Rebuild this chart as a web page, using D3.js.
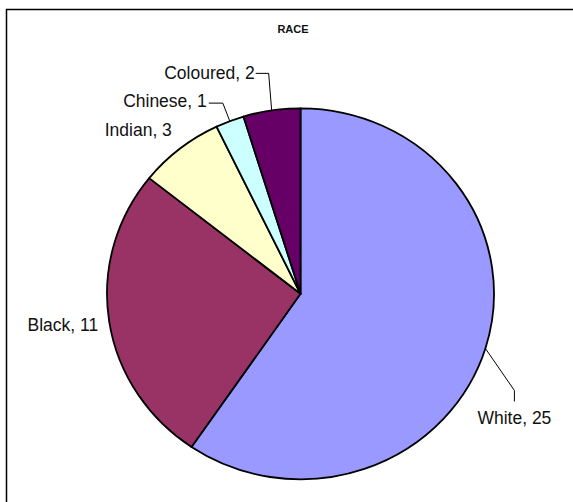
<!DOCTYPE html>
<html>
<head>
<meta charset="utf-8">
<script src="https://cdn.jsdelivr.net/npm/d3@7"></script>
<style>
  html, body { margin: 0; padding: 0; background: #fff; }
  svg { display: block; }
  text { font-family: "Liberation Sans", Arial, sans-serif; fill: #111; }
</style>
</head>
<body>
<svg id="chart" width="573" height="502"></svg>
<script>
// Race breakdown (counts)
const categories = ["White", "Black", "Indian", "Chinese", "Coloured"];
const values = [25, 11, 3, 1, 2];
const colors = ["#9999FF", "#993366", "#FFFFCC", "#CCFFFF", "#660066"];
const title = "RACE";

// Label placement, relative to the point where each slice's mid-angle meets the rim
// leader: list of [dx, dy] bends from the rim point; text: [dx, dy] from rim point, anchor
const labelLayout = [
  { leader: [[29, 42], [29, 53]], text: [29, 76], anchor: "middle" },
  { leader: null, text: [-11, 10], anchor: "end" },
  { leader: null, text: [-8, -13], anchor: "end" },
  { leader: [[-7, -18], [-21, -18]], text: [-23, -14], anchor: "end" },
  { leader: [[-3, -37], [-16, -37]], text: [-17, -31], anchor: "end" }
];

const svg = d3.select("#chart");

// Outer frame (runs off the right and bottom edges)
svg.append("rect")
  .attr("x", 6.5).attr("y", 9.5)
  .attr("width", 600).attr("height", 600)
  .attr("fill", "none")
  .attr("stroke", "#000")
  .attr("stroke-width", 1.5);

svg.append("text")
  .attr("x", 293).attr("y", 33)
  .attr("text-anchor", "middle")
  .attr("font-size", 11)
  .attr("font-weight", "bold")
  .text(title);

const cx = 300.5, cy = 293.8;
const rx = 193.5, ry = 185.5;

const pie = d3.pie().sort(null).value(d => d)(values);
const arc = d3.arc().innerRadius(0).outerRadius(rx);

const g = svg.append("g")
  .attr("transform", `translate(${cx},${cy}) scale(1,${ry / rx})`);

g.selectAll("path")
  .data(pie)
  .join("path")
  .attr("d", arc)
  .attr("fill", (d, i) => colors[i])
  .attr("stroke", "#000")
  .attr("stroke-width", 1.8)
  .attr("stroke-linejoin", "round")
  .attr("vector-effect", "non-scaling-stroke");

// Labels and leader lines
const labels = svg.append("g");
pie.forEach((d, i) => {
  const mid = (d.startAngle + d.endAngle) / 2;
  const px = cx + rx * Math.sin(mid);
  const py = cy - ry * Math.cos(mid);
  const L = labelLayout[i];
  if (L.leader) {
    const pts = [[px, py]].concat(L.leader.map(p => [px + p[0], py + p[1]]));
    labels.append("path")
      .attr("d", d3.line()(pts))
      .attr("fill", "none")
      .attr("stroke", "#000")
      .attr("stroke-width", 1);
  }
  labels.append("text")
    .attr("x", px + L.text[0])
    .attr("y", py + L.text[1])
    .attr("text-anchor", L.anchor)
    .attr("font-size", 17.5)
    .text(`${categories[i]}, ${values[i]}`);
});
</script>
</body>
</html>
